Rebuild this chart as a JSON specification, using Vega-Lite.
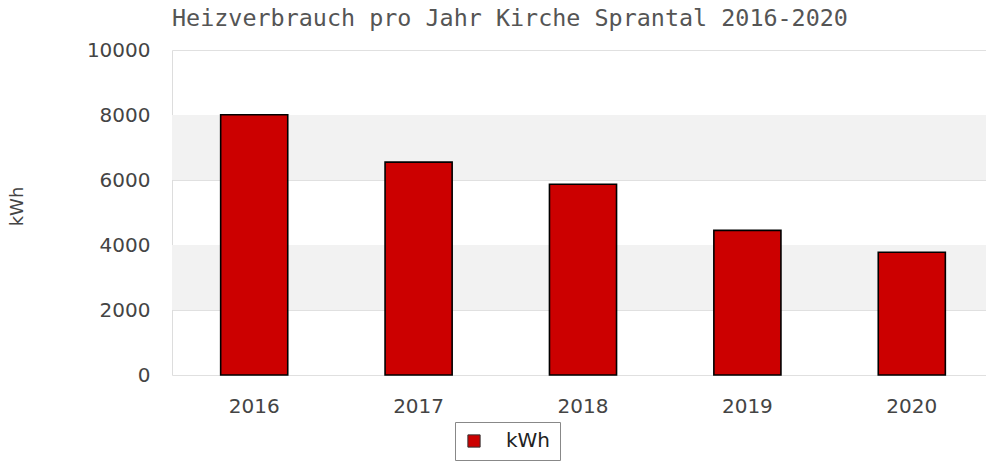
{
  "$schema": "https://vega.github.io/schema/vega-lite/v6.json",
  "autosize": {"type": "none"},
  "padding": {"left": 172, "top": 50, "right": 0, "bottom": 91},
  "width": 814,
  "height": 325,
  "background": "white",
  "title": {
    "text": "Heizverbrauch pro Jahr Kirche Sprantal 2016-2020",
    "anchor": "start",
    "frame": "group",
    "font": "DejaVu Sans Mono",
    "fontSize": 23.4,
    "fontWeight": "normal",
    "color": "#555555",
    "offset": 9
  },
  "datasets": {
    "bars": [
      {"Jahr": "2016", "kWh": 8010, "Serie": "kWh"},
      {"Jahr": "2017", "kWh": 6550, "Serie": "kWh"},
      {"Jahr": "2018", "kWh": 5870, "Serie": "kWh"},
      {"Jahr": "2019", "kWh": 4450, "Serie": "kWh"},
      {"Jahr": "2020", "kWh": 3775, "Serie": "kWh"}
    ],
    "bands": [
      {"von": 6000, "bis": 8000},
      {"von": 2000, "bis": 4000}
    ]
  },
  "layer": [
    {
      "data": {"name": "bands"},
      "mark": {"type": "rect", "color": "#f2f2f2"},
      "encoding": {
        "y": {"field": "von", "type": "quantitative", "scale": {"domain": [0, 10000]}},
        "y2": {"field": "bis"}
      }
    },
    {
      "data": {"name": "bars"},
      "mark": {"type": "bar", "stroke": "#000000", "strokeWidth": 1.6},
      "encoding": {
        "x": {
          "field": "Jahr",
          "type": "nominal",
          "scale": {"range": [0, 822], "paddingInner": 0.592, "paddingOuter": 0.296},
          "axis": {
            "title": null,
            "labelAngle": 0,
            "ticks": false,
            "domain": false,
            "labelPadding": 21,
            "labelBaseline": "top",
            "labelFont": "DejaVu Sans",
            "labelFontSize": 20,
            "labelColor": "#444444"
          }
        },
        "y": {
          "field": "kWh",
          "type": "quantitative",
          "scale": {"domain": [0, 10000]},
          "axis": {
            "title": "kWh",
            "titleFont": "DejaVu Sans",
            "titleFontSize": 18,
            "titleFontWeight": "normal",
            "titleColor": "#444444",
            "titleAngle": -90,
            "titleAlign": "center",
            "titleBaseline": "middle",
            "titleX": -155,
            "titleY": 156,
            "values": [0, 2000, 4000, 6000, 8000, 10000],
            "format": "d",
            "ticks": false,
            "domain": true,
            "domainColor": "#dddddd",
            "grid": true,
            "gridColor": "#e0e0e0",
            "labelPadding": 22,
            "labelFont": "DejaVu Sans",
            "labelFontSize": 20,
            "labelColor": "#444444"
          }
        },
        "color": {
          "field": "Serie",
          "type": "nominal",
          "scale": {"range": ["#cc0000"]},
          "legend": {
            "title": null,
            "orient": "none",
            "legendX": 283,
            "legendY": 372,
            "direction": "horizontal",
            "symbolType": "square",
            "symbolSize": 150,
            "symbolStrokeColor": "#333333",
            "symbolStrokeWidth": 1,
            "labelFont": "DejaVu Sans",
            "labelFontSize": 20,
            "labelColor": "#222222",
            "labelOffset": 22,
            "labelExpr": "datum.label + '\u00a0\u00a0\u00a0\u00a0'",
            "strokeColor": "#888888",
            "fillColor": "white",
            "padding": 9,
            "cornerRadius": 0
          }
        }
      }
    }
  ],
  "config": {
    "view": {"stroke": null},
    "axisX": {"grid": false}
  }
}
